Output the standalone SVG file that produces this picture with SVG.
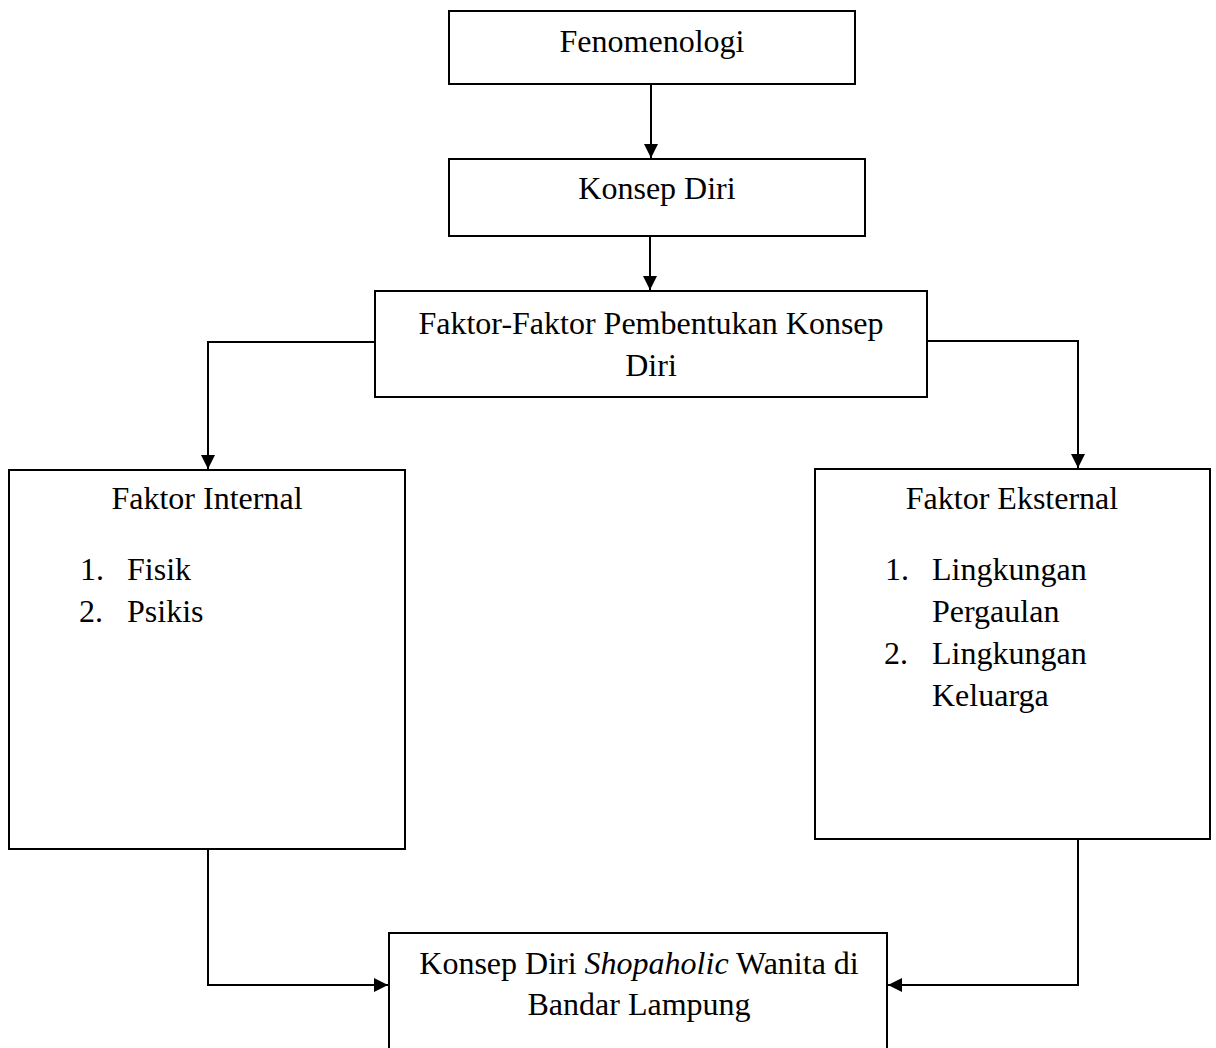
<svg xmlns="http://www.w3.org/2000/svg" width="1216" height="1048" viewBox="0 0 1216 1048">
<style>
.box{fill:#fff;stroke:#000;stroke-width:2}
.t{font-family:"Liberation Serif","Times New Roman",serif;font-size:32px;fill:#000}
.c{text-anchor:middle}
.conn{fill:none;stroke:#000;stroke-width:2}
</style>
<defs>
<marker id="ah" markerUnits="userSpaceOnUse" markerWidth="14" markerHeight="14" viewBox="0 0 14 14" refX="14" refY="7" orient="auto">
<path d="M0,0 L14,7 L0,14 Z" fill="#000"/>
</marker>
</defs>
<rect width="1216" height="1048" fill="#fff"/>
<g id="connectors">
<path class="conn" d="M651,84 V158" marker-end="url(#ah)"/>
<path class="conn" d="M650,236 V290" marker-end="url(#ah)"/>
<path class="conn" d="M375,342 H208 V469" marker-end="url(#ah)"/>
<path class="conn" d="M927,341 H1078 V468" marker-end="url(#ah)"/>
<path class="conn" d="M208,849 V985 H388" marker-end="url(#ah)"/>
<path class="conn" d="M1078,839 V985 H888" marker-end="url(#ah)"/>
</g>
<g id="fenomenologi">
<rect class="box" x="449" y="11" width="406" height="73"/>
<text class="t c" x="652" y="52">Fenomenologi</text>
</g>
<g id="konsep-diri">
<rect class="box" x="449" y="159" width="416" height="77"/>
<text class="t c" x="657" y="199">Konsep Diri</text>
</g>
<g id="faktor-pembentukan">
<rect class="box" x="375" y="291" width="552" height="106"/>
<text class="t c" x="651" y="334">Faktor-Faktor Pembentukan Konsep</text>
<text class="t c" x="651" y="376">Diri</text>
</g>
<g id="faktor-internal">
<rect class="box" x="9" y="470" width="396" height="379"/>
<text class="t c" x="207" y="509">Faktor Internal</text>
<text class="t" x="80" y="580">1.</text>
<text class="t" x="127" y="580">Fisik</text>
<text class="t" x="79" y="622">2.</text>
<text class="t" x="127" y="622">Psikis</text>
</g>
<g id="faktor-eksternal">
<rect class="box" x="815" y="469" width="395" height="370"/>
<text class="t c" x="1012" y="509">Faktor Eksternal</text>
<text class="t" x="885" y="580">1.</text>
<text class="t" x="932" y="580">Lingkungan</text>
<text class="t" x="932" y="622">Pergaulan</text>
<text class="t" x="884" y="664">2.</text>
<text class="t" x="932" y="664">Lingkungan</text>
<text class="t" x="932" y="706">Keluarga</text>
</g>
<g id="konsep-diri-shopaholic">
<rect class="box" x="389" y="933" width="498" height="140"/>
<text class="t c" x="639" y="974">Konsep Diri <tspan font-style="italic">Shopaholic</tspan> Wanita di</text>
<text class="t c" x="639" y="1015">Bandar Lampung</text>
</g>
</svg>
